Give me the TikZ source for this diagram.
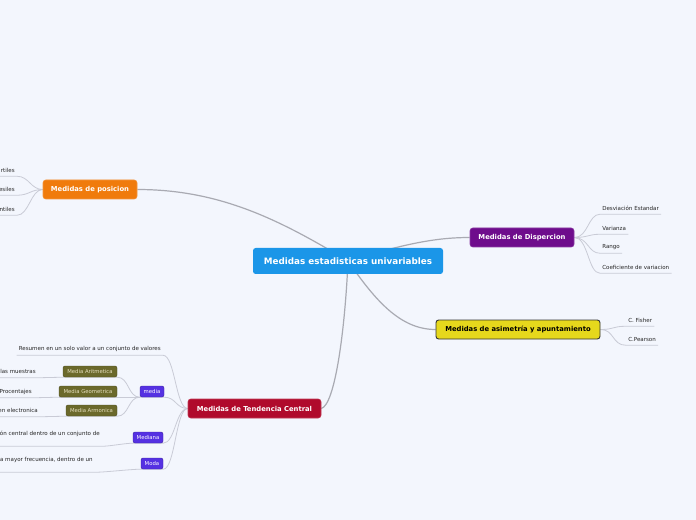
\documentclass[tikz,border=0pt]{standalone}
\usepackage{fontspec}
\setmainfont{DejaVu Sans}
\usetikzlibrary{backgrounds}
\definecolor{paper}{HTML}{F3F6FD}
\definecolor{rootBlue}{HTML}{1B96E8}
\definecolor{posOrange}{HTML}{F07B0C}
\definecolor{dispPurple}{HTML}{6E0C8C}
\definecolor{asimYellow}{HTML}{E6D81C}
\definecolor{tendRed}{HTML}{B00A2C}
\definecolor{subViolet}{HTML}{5531E2}
\definecolor{subOlive}{HTML}{6B692B}
\definecolor{oliveText}{HTML}{E6DFBE}
\definecolor{trunkGray}{HTML}{A9AAB2}
\definecolor{twigGray}{HTML}{C9CBD6}

\begin{document}
\begin{tikzpicture}[
    x=0.75pt, y=-0.75pt,
    root/.style={rectangle, rounded corners=2pt, fill=rootBlue, text=white,
                 font=\fontsize{6.6}{7.5}\selectfont\bfseries, inner sep=0pt,
                 minimum width=142.5pt, minimum height=19.5pt},
    topic/.style={rectangle, rounded corners=2pt, text=white, line width=0.4pt,
                  font=\fontsize{5.1}{6}\selectfont\bfseries, inner sep=0pt,
                  minimum height=14.25pt},
    sub/.style={rectangle, rounded corners=1.5pt, fill=subViolet, draw=subViolet!70!black,
                line width=0.3pt, text=white, font=\fontsize{4}{5}\selectfont,
                inner sep=0pt, minimum height=8.25pt},
    olive/.style={rectangle, rounded corners=1.5pt, fill=subOlive, draw=subOlive!70!black,
                  line width=0.3pt, text=oliveText, font=\fontsize{4}{5}\selectfont,
                  inner sep=0pt, minimum height=8.25pt},
    leaf/.style={font=\fontsize{4.15}{5}\selectfont, text=black!85, inner xsep=1.5pt,
                 inner ysep=0pt, minimum height=9pt},
    trunk/.style={draw=trunkGray, line width=0.9pt},
    twig/.style={draw=twigGray, line width=0.6pt},
]
\useasboundingbox (0,0) rectangle (696,520);

% main topics
\node[root] (cen) at (348,261) {Medidas estadisticas univariables};
\node[topic, fill=posOrange, draw=posOrange!80!white, minimum width=70.5pt] (pos) at (90,189.5) {Medidas de posicion};
\node[topic, fill=dispPurple, draw=dispPurple!80!white, minimum width=78pt] (disp) at (522,237.5) {Medidas de Dispercion};
\node[topic, fill=asimYellow, draw=black!80, line width=0.7pt, text=black, minimum width=123pt] (asim) at (518,329.5) {Medidas de asimetría y apuntamiento};
\node[topic, fill=tendRed, draw=tendRed!80!white, minimum width=99.75pt] (tend) at (254.5,408.5) {Medidas de Tendencia Central};

% posicion
\node[leaf, anchor=east] (p1) at (17,170) {rtiles};
\node[leaf, anchor=east] (p2) at (17,189) {esiles};
\node[leaf, anchor=east] (p3) at (17,209) {ntiles};

% dispercion
\node[leaf, anchor=west] (d1) at (600,208) {Desviación Estandar};
\node[leaf, anchor=west] (d2) at (600,228) {Varianza};
\node[leaf, anchor=west] (d3) at (600,247) {Rango};
\node[leaf, anchor=west] (d4) at (600,267) {Coeficiente de variacion};

% asimetria
\node[leaf, anchor=west] (a1) at (626,320) {C. Fisher};
\node[leaf, anchor=west] (a2) at (626,339) {C.Pearson};

% tendencia central
\node[leaf, anchor=east] (res) at (163,349) {Resumen en un solo valor a un conjunto de valores};
\node[sub, minimum width=18pt] (media) at (152,391.5) {media};
\node[sub, minimum width=22.5pt] (medn) at (148,437.5) {Mediana};
\node[sub, minimum width=16.5pt] (moda) at (152,463.5) {Moda};
\node[olive, minimum width=40.5pt] (arit) at (90,371.5) {Media Aritmetica};
\node[olive, minimum width=43.5pt] (geom) at (88,391.5) {Media Geometrica};
\node[olive, minimum width=38.25pt] (armo) at (91.5,410.5) {Media Armonica};
\node[leaf, anchor=east] (ar1) at (38,371.5) {las muestras};
\node[leaf, anchor=east] (ge1) at (34,391.5) {Procentajes};
\node[leaf, anchor=east] (am1) at (40,410.5) {en electronica};
\node[leaf, anchor=east, minimum height=18pt] (mn1) at (102,434) {ón central dentro de un conjunto de};
\node[leaf, anchor=east, minimum height=18pt] (mo1) at (95,460) {a mayor frecuencia, dentro de un};

\begin{scope}[on background layer]
\fill[paper] (0,0) rectangle (696,520);
% trunks
\draw[trunk] (pos.east) .. controls (220,189.5) and (280,220) .. (cen.center);
\draw[trunk] (disp.west) .. controls (440,237.5) and (410,242) .. (cen.center);
\draw[trunk] (asim.west) .. controls (400,329.5) and (375,300) .. (cen.center);
\draw[trunk] (tend.east) .. controls (335,405) and (345,330) .. (cen.center);
% twigs
\foreach \n in {p1,p2,p3}
  \draw[twig] (pos.west) .. controls +(-12,0) and +(12,0) .. (\n.south east) -- (\n.south west);
\foreach \n in {d1,d2,d3,d4}
  \draw[twig] (disp.east) .. controls +(14,0) and +(-12,0) .. (\n.south west) -- (\n.south east);
\foreach \n in {a1,a2}
  \draw[twig] (asim.east) .. controls +(14,0) and +(-14,0) .. (\n.south west) -- (\n.south east);
\foreach \n in {res,media,medn,moda}
  \draw[twig] (tend.west) .. controls +(-12,0) and +(12,0) .. (\n.south east) -- (\n.south west);
\foreach \n in {arit,geom,armo}
  \draw[twig] (media.south west) .. controls +(-12,0) and +(12,0) .. (\n.south east) -- (\n.south west);
\draw[twig] (arit.south west) -- (ar1.south east) -- (ar1.south west);
\draw[twig] (geom.south west) -- (ge1.south east) -- (ge1.south west);
\draw[twig] (armo.south west) -- (am1.south east) -- (am1.south west);
\draw[twig] (medn.south west) .. controls +(-8,0) and +(8,0) .. (mn1.south east) -- (mn1.south west);
\draw[twig] (moda.south west) .. controls +(-10,0) and +(10,0) .. (mo1.south east) -- (mo1.south west);
\end{scope}
\end{tikzpicture}
\end{document}
